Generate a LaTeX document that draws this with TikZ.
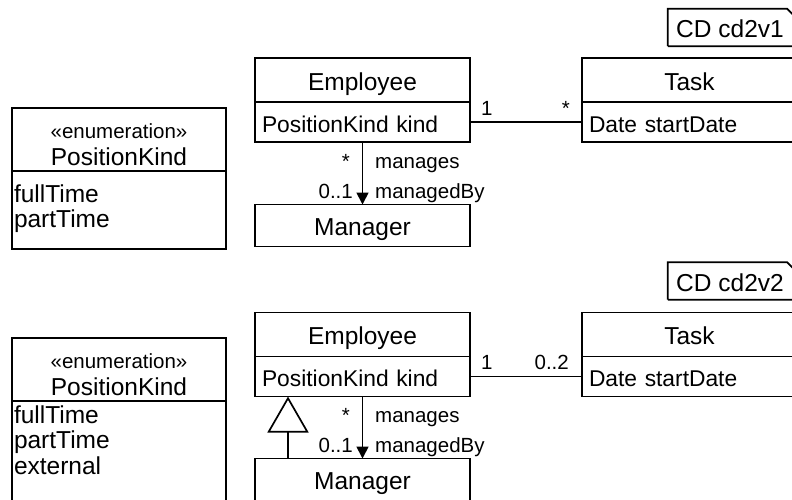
\documentclass[tikz,border=0pt]{standalone}
\usepackage{fontspec}
\setmainfont{Liberation Sans}
\usetikzlibrary{arrows.meta}
\usetikzlibrary{positioning}

\newcommand{\namefont}{\fontsize{24.5}{27}\selectfont}
\newcommand{\attrfont}{\fontsize{22.8}{25}\selectfont}
\newcommand{\rolefont}{\fontsize{20.5}{24}\selectfont}

\begin{document}
\begin{tikzpicture}[x=1pt, y=-1pt,
    cls/.style={draw, line width=1.7pt, inner sep=0pt, outer sep=0pt, minimum width=215pt, minimum height=44pt, text height=22pt, text depth=2pt, font=\namefont},
    clsattr/.style={cls, minimum height=40pt, text width=201pt, inner xsep=7pt, align=left, font=\attrfont},
    enumhead/.style={cls, minimum width=214pt, minimum height=63pt, align=center, text height=53pt, text depth=2pt},
    enumlit/.style={cls, minimum width=214pt, text width=210pt, inner xsep=2pt, align=left, font=\fontsize{24.5}{25.5}\selectfont},
    tag/.style={inner sep=0pt, minimum width=124pt, minimum height=37pt, text height=22pt, text depth=2pt, font=\namefont},
    tagline/.style={line width=1.7pt},
    role/.style={inner sep=0pt, font=\rolefont},
    assoc/.style={line width=1.7pt},
    nav/.style={assoc, -{Triangle[length=12pt, width=12pt]}},
    inherit/.style={assoc, -{Triangle[open, length=36pt, width=41pt]}}]
  \useasboundingbox (0,0) rectangle (792,499);

  % version 1
  \node[tag] (cd1) at (730,27.5) {CD cd2v1};
  \draw[tagline] (cd1.south west) |- ([xshift=-5pt]cd1.north east) -- ([xshift=5pt,yshift=-10pt]cd1.north east) |- (cd1.south west);

  \node[enumhead] (enum1) at (119,139.5) {{\rolefont «enumeration»}\\PositionKind};
  \node[enumlit, below=0pt of enum1, minimum height=78pt, text height=15pt, text depth=31pt] (enum1a) {fullTime\\partTime};

  \node[cls] (emp1) at (362.5,80) {Employee};
  \node[clsattr, below=0pt of emp1] (emp1a) {PositionKind kind};
  \node[cls] (task1) at (689.5,80) {Task};
  \node[clsattr, below=0pt of task1] (task1a) {Date startDate};
  \node[cls, minimum height=42pt] (mgr1) at (362.5,225.5) {Manager};

  \draw[assoc] (emp1a.east) -- (task1a.west);
  \node[role, anchor=base west] (a1l) at (481,115) {1};
  \node[role, anchor=base east] (a1r) at (570,115) {*};

  \draw[nav] (emp1a.south) -- (mgr1.north);
  \node[role, anchor=base east] (n1s) at (350,168) {*};
  \node[role, anchor=base west] (n1r) at (375,168) {manages};
  \node[role, anchor=base east] (n1m) at (353,198) {0..1};
  \node[role, anchor=base west] (n1b) at (375,198) {managedBy};

  % version 2
  \node[tag] (cd2) at (730,281) {CD cd2v2};
  \draw[tagline] (cd2.south west) |- ([xshift=-5pt]cd2.north east) -- ([xshift=5pt,yshift=-10pt]cd2.north east) |- (cd2.south west);

  \node[enumhead] (enum2) at (119,369.5) {{\rolefont «enumeration»}\\PositionKind};
  \node[enumlit, below=0pt of enum2, minimum height=103pt, text height=17pt, text depth=76pt] (enum2a) {fullTime\\partTime\\external};

  \node[cls] (emp2) at (362.5,334.5) {Employee};
  \node[clsattr, below=0pt of emp2] (emp2a) {PositionKind kind};
  \node[cls] (task2) at (689.5,334.5) {Task};
  \node[clsattr, below=0pt of task2] (task2a) {Date startDate};
  \node[cls, minimum height=42pt] (mgr2) at (362.5,479.5) {Manager};

  \draw[assoc] (emp2a.east) -- (task2a.west);
  \node[role, anchor=base west] (a2l) at (481,369) {1};
  \node[role, anchor=base east] (a2r) at (569,369) {0..2};

  \draw[nav] (emp2a.south) -- (mgr2.north);
  \node[role, anchor=base east] (n2s) at (350,422) {*};
  \node[role, anchor=base west] (n2r) at (375,422) {manages};
  \node[role, anchor=base east] (n2m) at (353,452) {0..1};
  \node[role, anchor=base west] (n2b) at (375,452) {managedBy};

  \draw[inherit] ([xshift=-74.5pt]mgr2.north) -- ([xshift=-74.5pt]emp2a.south);
\end{tikzpicture}
\end{document}
